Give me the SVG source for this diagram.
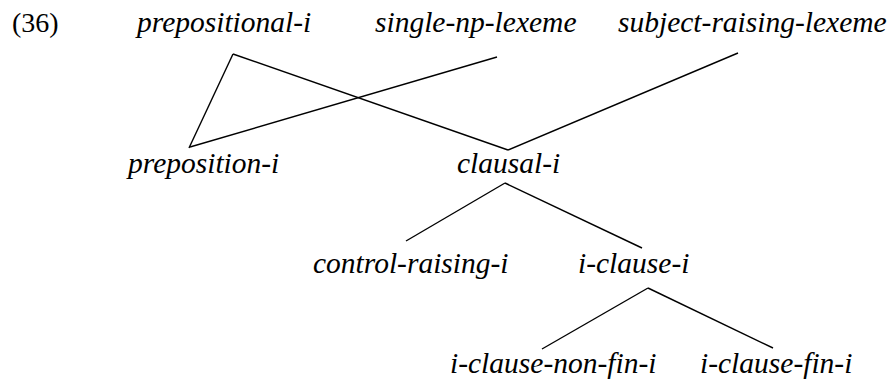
<svg xmlns="http://www.w3.org/2000/svg" width="887" height="379" viewBox="0 0 887 379">
<style>
text{font-family:"Liberation Serif","Times New Roman",serif;font-size:29.5px;fill:#000}
.n{font-style:italic}
line{stroke:#000;stroke-width:1.4}
</style>
<rect width="887" height="379" fill="#fff"/>
<text x="12" y="32" style="font-size:28px">(36)</text>
<g id="prepositional-i"><text class="n" x="137" y="32">prepositional-i</text></g>
<g id="single-np-lexeme"><text class="n" x="375" y="32">single-np-lexeme</text></g>
<g id="subject-raising-lexeme"><text class="n" x="618" y="32">subject-raising-lexeme</text></g>
<g id="preposition-i"><text class="n" x="128" y="173">preposition-i</text></g>
<g id="clausal-i"><text class="n" x="457" y="173">clausal-i</text></g>
<g id="control-raising-i"><text class="n" x="313" y="273">control-raising-i</text></g>
<g id="i-clause-i"><text class="n" x="578" y="273">i-clause-i</text></g>
<g id="i-clause-non-fin-i"><text class="n" x="450" y="373">i-clause-non-fin-i</text></g>
<g id="i-clause-fin-i"><text class="n" x="700" y="373">i-clause-fin-i</text></g>
<g id="connectors">
<line x1="233" y1="54" x2="189" y2="148"/>
<line x1="233" y1="54" x2="508" y2="150"/>
<line x1="497" y1="57" x2="190" y2="147"/>
<line x1="738" y1="53" x2="508" y2="150"/>
<line x1="505" y1="183" x2="406" y2="241"/>
<line x1="505" y1="183" x2="642" y2="248"/>
<line x1="648" y1="288" x2="542" y2="349"/>
<line x1="648" y1="288" x2="773" y2="348"/>
</g>
</svg>
